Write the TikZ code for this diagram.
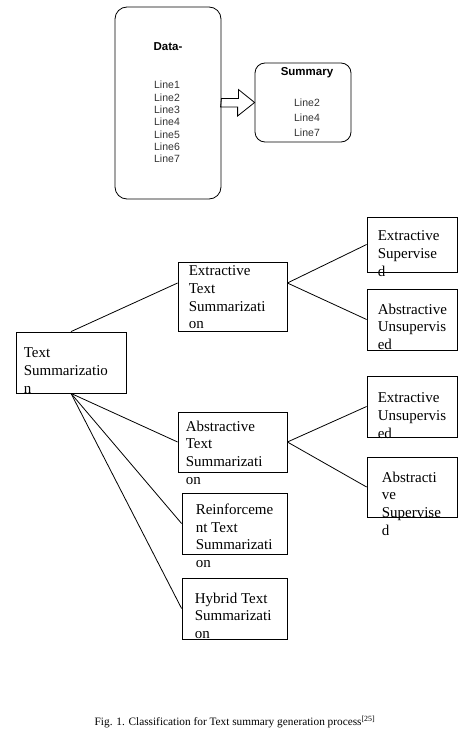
\documentclass[tikz,border=0pt]{standalone}
\usepackage{fontspec}
\setmainfont{Liberation Serif}
\newfontfamily\arialfont{Liberation Sans}
\usetikzlibrary{positioning,calc}
\tikzstyle{rbox} = [draw, rounded corners=12pt, inner sep=0pt, line width=0.8pt]
\tikzstyle{cbox} = [draw, rectangle, inner sep=0pt, line width=0.8pt]
\tikzstyle{ctext} = [anchor=north west, inner sep=0pt, align=left, font=\fontsize{15}{17.7}\selectfont]
\tikzstyle{sans} = [font=\arialfont\fontsize{10.5}{12.3}\selectfont, text=black!80, align=center, inner sep=0pt]
\tikzstyle{shead} = [font=\arialfont\bfseries\fontsize{11.5}{13}\selectfont, inner sep=0pt]
\tikzstyle{line} = [line width=0.8pt]

\begin{document}
\begin{tikzpicture}[x=1pt, y=-1pt]
            \useasboundingbox (0,0) rectangle (468,741);
            % data -> summary
            \node[rbox, minimum width=106pt, minimum height=192pt] (data) at (168,103) {};
            \node[rbox, rounded corners=10pt, minimum width=96pt, minimum height=79pt] (summ) at (303,102.5) {};
            \node[shead] (dataT) at (168,47) {Data-};
            \node[sans] (dataL) at (167,122) {Line1\\Line2\\Line3\\Line4\\Line5\\Line6\\Line7};
            \node[shead] (summT) at (307,73) {Summary};
            \node[sans, font=\arialfont\fontsize{10.5}{15}\selectfont] (summL) at (307,118) {Line2\\Line4\\Line7};
            \draw[line] (data.east) ++(0,-4.5) -- ++(17,0) -- ++(0,-9) -- (summ.west) -- ++(-17,13.5) -- ++(0,-9) -- ++(-17,0) -- cycle;

            % classification tree
            \node[cbox, minimum width=110pt, minimum height=61pt] (ts) at (71,362.5) {};
            \node[cbox, minimum width=109pt, minimum height=69pt] (ets) at (232.5,296.5) {};
            \node[cbox, minimum width=90pt, minimum height=55pt] (exsup) at (412,244.5) {};
            \node[cbox, minimum width=90pt, minimum height=61pt] (abunsup) at (412,319.5) {};
            \node[cbox, minimum width=109pt, minimum height=60pt] (ats) at (232.5,442) {};
            \node[cbox, minimum width=90pt, minimum height=61pt] (exunsup) at (412,406.5) {};
            \node[cbox, minimum width=90pt, minimum height=60pt] (absup) at (412,487) {};
            \node[cbox, minimum width=105pt, minimum height=61pt] (rts) at (234.5,523.5) {};
            \node[cbox, minimum width=105pt, minimum height=61pt] (hts) at (234.5,608.5) {};

            \node[ctext] (tsT) at ([shift={(8,16)}]ts.north west) {Text\\Summarizatio\\n};
            \node[ctext] (etsT) at ([shift={(11,4)}]ets.north west) {Extractive\\Text\\Summarizati\\on};
            \node[ctext] (exsupT) at ([shift={(11,14)}]exsup.north west) {Extractive\\Supervise\\d};
            \node[ctext] (abunsupT) at ([shift={(11,15)}]abunsup.north west) {Abstractive\\Unsupervis\\ed};
            \node[ctext] (atsT) at ([shift={(8,9)}]ats.north west) {Abstractive\\Text\\Summarizati\\on};
            \node[ctext] (exunsupT) at ([shift={(11,17)}]exunsup.north west) {Extractive\\Unsupervis\\ed};
            \node[ctext] (absupT) at ([shift={(15,15)}]absup.north west) {Abstracti\\ve\\Supervise\\d};
            \node[ctext] (rtsT) at ([shift={(14,11)}]rts.north west) {Reinforceme\\nt Text\\Summarizati\\on};
            \node[ctext] (htsT) at ([shift={(13,15)}]hts.north west) {Hybrid Text\\Summarizati\\on};

            \draw[line] (ts.north) -- ([yshift=13.5pt]ets.west);
            \draw[line] ([yshift=13.5pt]ets.east) -- (exsup.west);
            \draw[line] ([yshift=13.5pt]ets.east) -- (abunsup.west);
            \draw[line] (ts.south) -- (ats.west);
            \draw[line] (ts.south) -- (rts.west);
            \draw[line] (ts.south) -- (hts.west);
            \draw[line] (ats.east) -- (exunsup.west);
            \draw[line] (ats.east) -- (absup.west);

            \node[font=\fontsize{11.3}{13}\selectfont] (cap) at (235,722) {Fig. 1. Classification for Text summary generation process\textsuperscript{[25]}};
\end{tikzpicture}
\end{document}
